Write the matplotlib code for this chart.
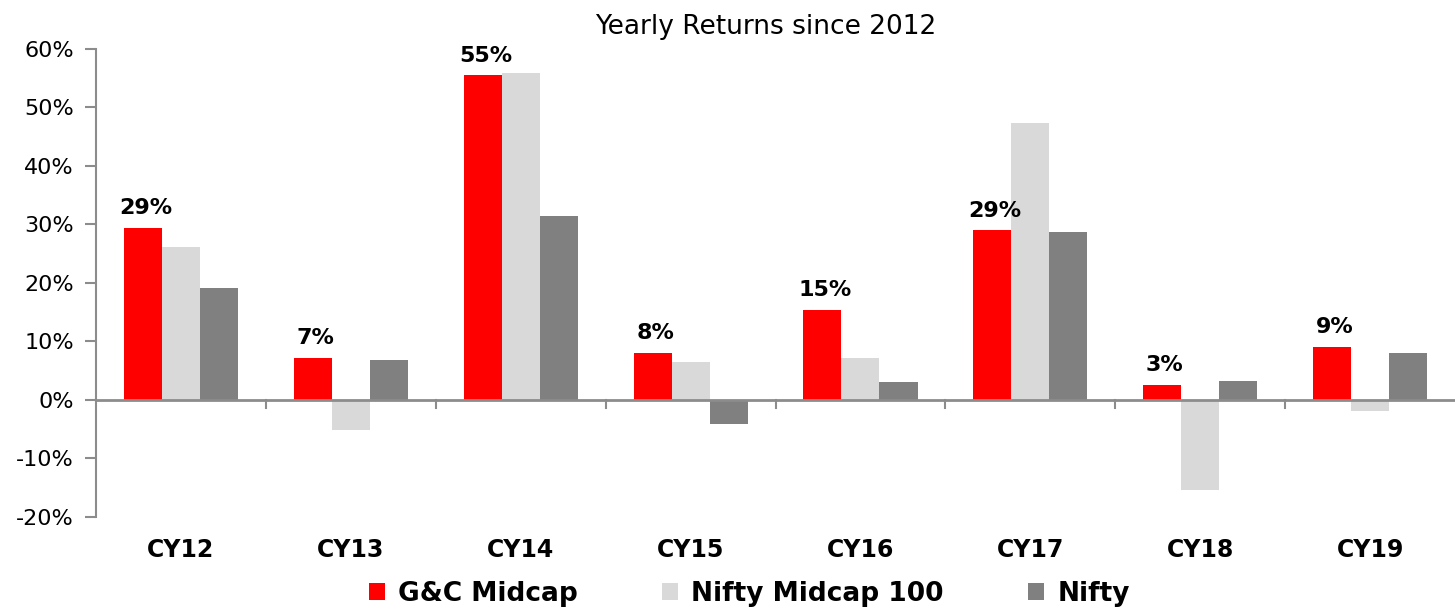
"""
Yearly returns bar chart
"""
import matplotlib
matplotlib.use('Agg')
import matplotlib.pyplot as plt
import matplotlib.transforms as mtransforms
from matplotlib.ticker import FuncFormatter, MultipleLocator
import numpy as np

plt.rcParams['font.family'] = ['DejaVu Sans']

# data (% returns)
categories = ['CY12', 'CY13', 'CY14', 'CY15', 'CY16', 'CY17', 'CY18', 'CY19']
gc_midcap = [29.4, 7.2, 55.5, 8.1, 15.4, 29.0, 2.6, 9.1]
nifty_midcap100 = [26.1, -5.1, 55.9, 6.5, 7.2, 47.3, -15.4, -1.8]
nifty = [19.2, 6.8, 31.4, -4.1, 3.1, 28.7, 3.2, 8.1]
gc_labels = ['29%', '7%', '55%', '8%', '15%', '29%', '3%', '9%']

RED = '#FF0000'
LIGHT = '#D9D9D9'
DARK = '#808080'
AXIS = '#8C8C8C'

fig = plt.figure(figsize=(14.55, 6.10), dpi=100)
ax = fig.add_axes([0.066, 0.1525, 0.934, 0.7672])

x = np.arange(len(categories))
w = 0.224
ax.bar(x - w, gc_midcap, w, color=RED, label='G&C Midcap', zorder=2)
ax.bar(x, nifty_midcap100, w, color=LIGHT, label='Nifty Midcap 100', zorder=2)
ax.bar(x + w, nifty, w, color=DARK, label='Nifty', zorder=2)

# labels on G&C bars
for xi, v, lab in zip(x - w, gc_midcap, gc_labels):
    ax.annotate(lab, (xi, v), xytext=(2, 7), textcoords='offset points',
                ha='center', va='bottom', fontsize=16, fontweight='bold')

ax.set_xlim(-0.5, len(categories) - 0.5)
ax.set_ylim(-20, 60)
ax.yaxis.set_major_locator(MultipleLocator(10))
ax.yaxis.set_major_formatter(FuncFormatter(lambda v, p: f'{v:.0f}%'))
ax.tick_params(axis='y', labelsize=16, length=8, width=1.5, color=AXIS, pad=8)

# zero line with category boundary ticks
for s in ['top', 'right', 'bottom']:
    ax.spines[s].set_visible(False)
ax.spines['left'].set_color(AXIS)
ax.spines['left'].set_linewidth(1.5)
ax.axhline(0, color=AXIS, lw=2, zorder=3)
ax.set_xticks([])
trans = mtransforms.blended_transform_factory(ax.transData, ax.transAxes)
for b in np.arange(0.5, len(categories) - 0.5, 1.0):
    ax.plot([b, b], [0, -1.4], color=AXIS, lw=1.5, zorder=3, clip_on=False)
for xi, c in zip(x, categories):
    ax.text(xi, -0.07, c, transform=trans, ha='center', va='center',
            fontsize=17, fontweight='bold')

fig.text(0.526, 0.955, 'Yearly Returns since 2012', ha='center', va='center', fontsize=19)

ax.legend(loc='center', bbox_to_anchor=(0.515, 0.027), bbox_transform=fig.transFigure,
          ncol=3, frameon=False, handlelength=0.6, handleheight=0.6,
          columnspacing=3.2, handletextpad=0.5,
          prop={'size': 19, 'weight': 'bold'})

fig.savefig('out.png', dpi=100)
